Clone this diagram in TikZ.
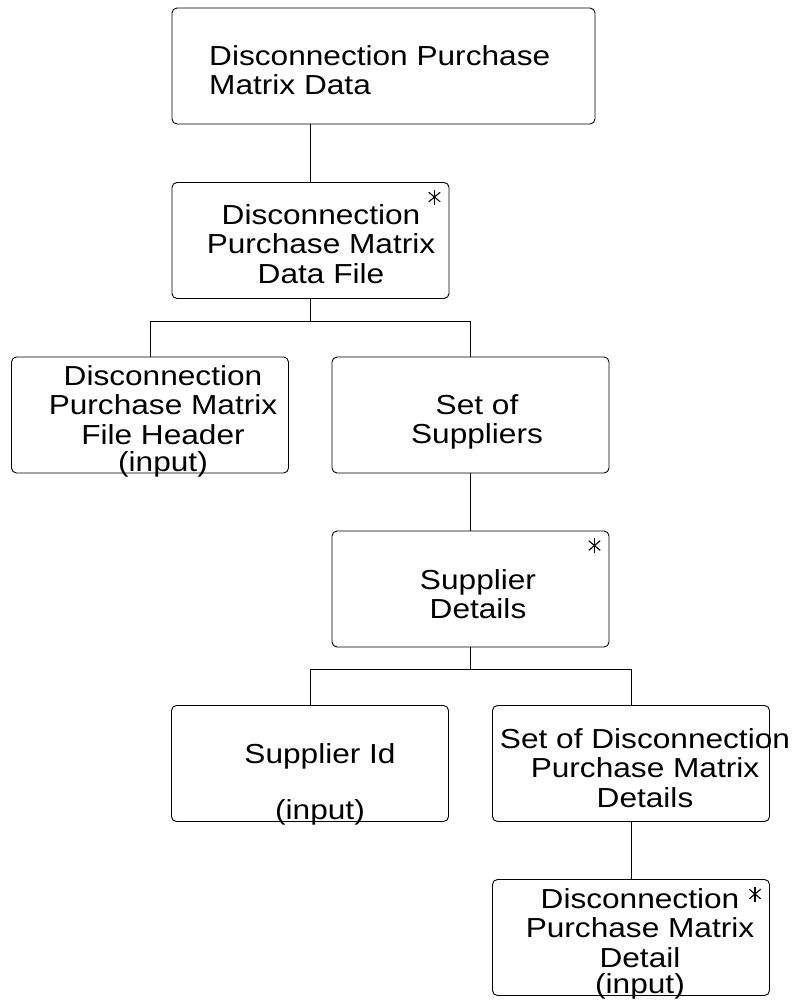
\documentclass[tikz,border=0pt]{standalone}
\usepackage{fontspec}
\setmainfont{Liberation Sans}[FakeStretch=1.15]
\usepackage{tikz}
\usetikzlibrary{positioning,calc}
\definecolor{jsdline}{HTML}{000000}
\tikzset{
  box/.style={rounded corners=5pt,draw=jsdline,line width=0.9pt,minimum width=277pt,minimum height=116pt,inner sep=0pt},
  lbl/.style={inner sep=0pt,align=center,anchor=north,font=\fontsize{27.5pt}{29.5pt}\selectfont},
  link/.style={draw=jsdline,line width=0.9pt},
  iter/.style={draw=jsdline,line width=1.1pt},
}
\begin{document}
\begin{tikzpicture}[x=1pt,y=-1pt]
  \useasboundingbox (0,0) rectangle (792,1003);
  % boxes
  \node[box,minimum width=423pt] (data) at (383.5,66) {};
  \node[box] (file) at (310.5,240.5) {};
  \node[box] (header) at (150,415) {};
  \node[box] (suppliers) at (470.5,415) {};
  \node[box] (supdet) at (470.5,589) {};
  \node[box] (supid) at (310,763.5) {};
  \node[box] (pmset) at (631,763.5) {};
  \node[box] (pmdetail) at (631,937.5) {};
  % texts
  \node[lbl,align=left,anchor=north west] (data-t) at (209,45) {Disconnection Purchase\\Matrix Data};
  \node[lbl] (file-t) at (321,204) {Disconnection\\Purchase Matrix\\Data File};
  \node[lbl] (header-t) at (163,365) {Disconnection\\Purchase Matrix\\File Header\\[-2pt](input)};
  \node[lbl] (suppliers-t) at (477,394) {Set of\\Suppliers};
  \node[lbl] (supdet-t) at (478,569) {Supplier\\Details};
  \node[lbl] (supid-t) at (320,743) {Supplier Id\\[27pt](input)};
  \node[lbl] (pmset-t) at (645,728) {Set of Disconnection\\Purchase Matrix\\Details};
  \node[lbl] (pmdetail-t) at (640,888) {Disconnection\\Purchase Matrix\\Detail\\[-3pt](input)};
  % connectors
  \draw[link] (data.south -| file.north) -- (file.north);
  \draw[link] (file.south) -- ++(0,22) coordinate (fbar) -| (header.north);
  \draw[link] (fbar) -| (suppliers.north);
  \draw[link] (suppliers.south) -- (supdet.north);
  \draw[link] (supdet.south) -- ++(0,22) coordinate (sbar) -| (supid.north);
  \draw[link] (sbar) -| (pmset.north);
  \draw[link] (pmset.south) -- (pmdetail.north);
  % iteration stars
  \foreach \b in {file,supdet,pmdetail}
    \foreach \a in {90,40,140}
      \draw[iter] ($(\b.north east)+(-15,15)$) +(\a:7.5) -- +(\a+180:7.5);
\end{tikzpicture}
\end{document}
